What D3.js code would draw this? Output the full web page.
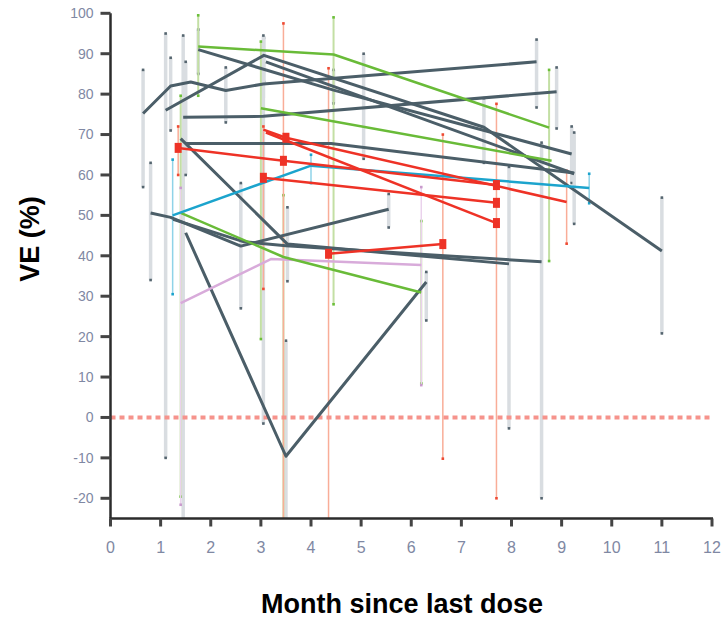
<!DOCTYPE html>
<html>
<head>
<meta charset="utf-8">
<script src="https://cdn.jsdelivr.net/npm/d3@7"></script>
<style>
  body { margin: 0; background: #fff; }
  svg { display: block; }
</style>
</head>
<body>
<script>
// tick values
var xTicks = [0, 1, 2, 3, 4, 5, 6, 7, 8, 9, 10, 11, 12];
var yTicks = [-20, -10, 0, 10, 20, 30, 40, 50, 60, 70, 80, 90, 100];

// each study: points as [month, VE, lower CI, upper CI]
var grayStudies = [
  [[0.65, 75.2, 57, 86], [1.2, 82, 71, 89], [1.6, 83, null, null], [2.3, 80.9, 73, 86.6], [3.05, 82.5, 79, 92], [8.5, 88, 76.7, 93.5]],
  [[1.1, 76, -10, 95], [3.06, 89.6, 83, 94], [7.45, 71.8, 63, 79], [11, 41.2, 20.8, 54.4]],
  [[1.75, 91, 85, 96], [4.45, 81, 77.7, 86], [9.2, 65.2, 58, 72]],
  [[3.1, 88, null, null], [5.05, 79.2, 64, 90], [9.25, 60.3, 47.9, 70.5]],
  [[1.45, 74.3, -25, 94.5], [3.05, 74.5, -1.5, 94.5], [8.9, 80.6, 71.5, 86.6]],
  [[1.5, 67.8, 60, 88], [4.4, 67.8, null, null], [9.25, 60.5, null, null]],
  [[1.5, 45.7, null, null], [3.5, -9.6, -25, 19], [6.3, 33.5, 24, 36]],
  [[1.4, 69, null, null], [3.53, 42.9, 33.7, 52], [7.95, 38, -2.7, 62]],
  [[0.8, 50.6, 34, 63], [1.2, 49.5, null, null], [2.6, 42.4, 27, 58], [5.55, 51.5, 47, 55.3]],
  [[1.25, 49, null, null], [2.65, 43.5, null, null], [3.5, 42.5, null, null], [8.6, 38.5, -20, 68]]
];

var greenStudies = [
  [[1.75, 91.8, 79.6, 99.5], [4.45, 89.8, 28, 99], [8.75, 71.7, 38.7, 86]],
  [[3.0, 76.5, 19.4, 93], [8.8, 63.5, null, null]],
  [[1.4, 50.6, -19.6, 79.6], [3.45, 39.7, -25, 55], [6.2, 30.9, 8.4, 48.6]]
];

var redStudies = [
  [[1.35, 66.7, 60, 72], [3.45, 63.5, -25, 97.5], [7.7, 57.5, -20, 77.6]],
  [[3.05, 71.2, null, null], [3.5, 69.2, null, null], [9.1, 53.3, 43, 61]],
  [[3.05, 59.3, 31.8, 72], [7.7, 53.1, null, null]],
  [[3.1, 70.5, null, null], [7.7, 48.1, null, null]],
  [[4.35, 40.5, -25, 86.4], [6.63, 42.9, -10.2, 70]]
];
// which red points carry a square marker
var redMarked = [[1, 1, 1], [0, 1, 0], [1, 1], [0, 1], [1, 1]];

var blueStudies = [
  [[1.24, 50, 30.5, 63.8], [4.0, 62.3, 58, 65], [9.55, 56.8, 53, 60.3]]
];

var purpleStudies = [
  [[1.4, 28.3, -21.6, 56.8], [3.2, 39.2, null, null], [6.2, 37.7, 8, 57]]
];

var width = 722, height = 619;

var svg = d3.select("body").append("svg")
  .attr("width", width).attr("height", height);

var x = d3.scaleLinear().domain([0, 12]).range([110.5, 712]);
var y = d3.scaleLinear().domain([-25, 100]).range([518.5, 13.3]);

/* error bars */
var bars = svg.append("g").attr("class", "bars");

function drawBars(studies, color, w, capColor) {
  studies.forEach(function(s) {
    s.forEach(function(p) {
      if (p[2] == null && p[3] == null) return;
      var lo = p[2] == null ? p[1] : Math.max(p[2], -25);
      var hi = p[3] == null ? p[1] : p[3];
      bars.append("line")
        .attr("x1", x(p[0])).attr("x2", x(p[0]))
        .attr("y1", y(lo)).attr("y2", y(hi))
        .style("stroke", color).style("stroke-width", w);
      [p[2], p[3]].forEach(function(v) {
        if (v == null || v <= -25) return;
        bars.append("rect")
          .attr("x", x(p[0]) - 1.3).attr("y", y(v) - 1.3)
          .attr("width", 2.6).attr("height", 2.6)
          .style("fill", capColor);
      });
    });
  });
}

drawBars(grayStudies, "#d9dde1", 3.5, "#55656f");
drawBars(greenStudies, "#c3dfa4", 2, "#6cbf3a");
drawBars(purpleStudies, "#ead2ec", 1.5, "#c99bcd");
drawBars(redStudies, "#f9ad98", 1.5, "#ee4a33");
drawBars(blueStudies, "#8fd3e8", 1.5, "#1ba3cc");

// zero reference line
svg.append("line")
  .attr("x1", x(0)).attr("x2", x(12))
  .attr("y1", y(0)).attr("y2", y(0))
  .style("stroke", "#f6938c").style("stroke-width", 4)
  .style("stroke-dasharray", "5,4");

/* study lines */
var line = d3.line().x(function(d) { return x(d[0]); }).y(function(d) { return y(d[1]); });

function drawLines(studies, color, w) {
  svg.append("g").selectAll("path").data(studies).enter().append("path")
    .attr("d", line)
    .style("fill", "none").style("stroke", color)
    .style("stroke-width", w).style("stroke-linejoin", "round");
}

drawLines(grayStudies, "#4b5e68", 3);
drawLines(purpleStudies, "#d8abda", 2.5);
drawLines(greenStudies, "#69bb38", 2.5);
drawLines(blueStudies, "#1ca4cd", 2.5);
drawLines(redStudies, "#ee3226", 2.5);

// red markers
redStudies.forEach(function(s, i) {
  s.forEach(function(p, j) {
    if (!redMarked[i][j]) return;
    svg.append("rect")
      .attr("x", x(p[0]) - 3.5).attr("y", y(p[1]) - 5)
      .attr("width", 7).attr("height", 10)
      .style("fill", "#ee3226");
  });
});

/* axes */
var axisColor = "#2b2b2b";
var labelColor = "#7f88a3";

svg.append("line")
  .attr("x1", x(0)).attr("x2", x(0)).attr("y1", y(100)).attr("y2", y(-25))
  .style("stroke", axisColor).style("stroke-width", 2.5);
svg.append("line")
  .attr("x1", x(0) - 1).attr("x2", x(12) + 1).attr("y1", y(-25)).attr("y2", y(-25))
  .style("stroke", axisColor).style("stroke-width", 2.5);

var yt = svg.append("g");
yTicks.forEach(function(t) {
  yt.append("line")
    .attr("x1", x(0) - 10).attr("x2", x(0)).attr("y1", y(t)).attr("y2", y(t))
    .style("stroke", "#444").style("stroke-width", 3);
  yt.append("text")
    .attr("x", x(0) - 17).attr("y", y(t)).attr("dy", "0.35em")
    .attr("text-anchor", "end")
    .style("font-family", "Liberation Sans, Arial, sans-serif")
    .style("font-size", "14px").style("fill", labelColor)
    .text(t);
});

var xt = svg.append("g");
xTicks.forEach(function(t) {
  xt.append("line")
    .attr("x1", x(t)).attr("x2", x(t)).attr("y1", y(-25)).attr("y2", y(-25) + 8)
    .style("stroke", "#444").style("stroke-width", 3);
  xt.append("text")
    .attr("x", x(t)).attr("y", 553)
    .attr("text-anchor", "middle")
    .style("font-family", "Liberation Sans, Arial, sans-serif")
    .style("font-size", "16px").style("fill", labelColor)
    .text(t);
});

// axis titles
svg.append("text")
  .attr("transform", "translate(39,239) rotate(-90)")
  .attr("text-anchor", "middle")
  .style("font-family", "Liberation Sans, Arial, sans-serif")
  .style("font-weight", "bold").style("font-size", "27px")
  .text("VE (%)");

svg.append("text")
  .attr("x", 402).attr("y", 613)
  .attr("text-anchor", "middle")
  .style("font-family", "Liberation Sans, Arial, sans-serif")
  .style("font-weight", "bold").style("font-size", "27px")
  .text("Month since last dose");
</script>
</body>
</html>
